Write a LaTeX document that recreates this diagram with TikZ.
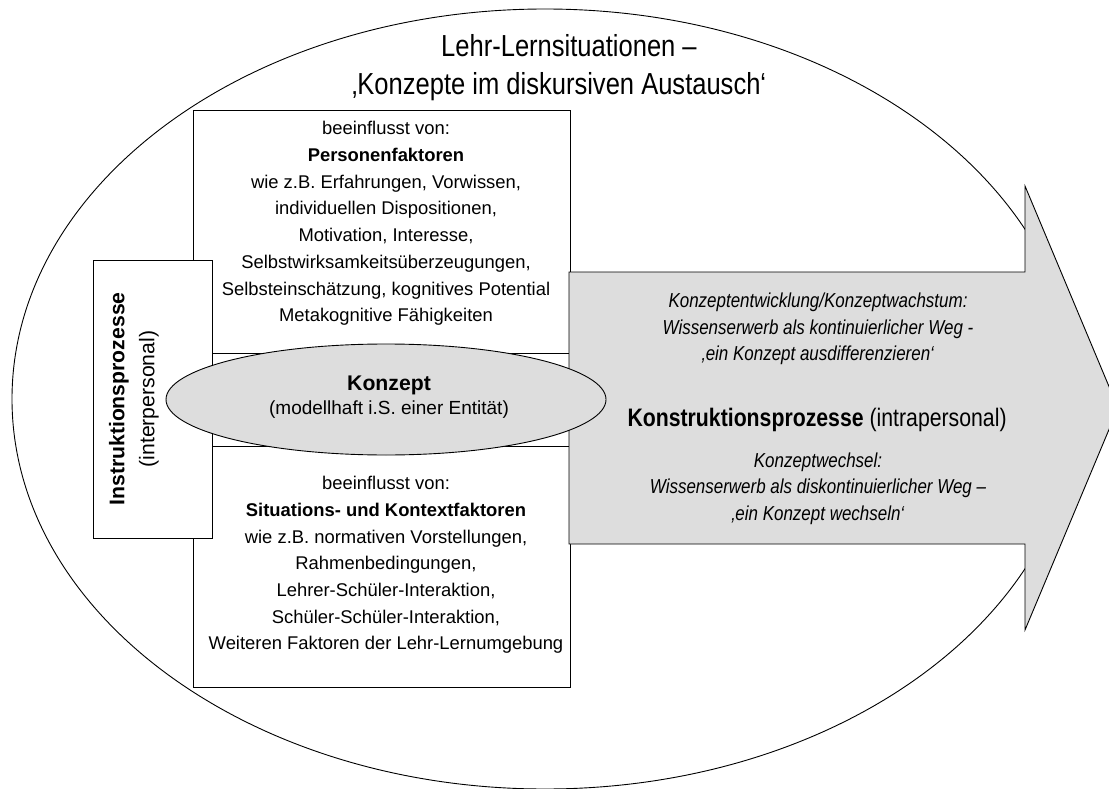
\documentclass[tikz,border=0pt]{standalone}
\usepackage{fontspec}
\setmainfont{Liberation Sans}
\newfontfamily\schmal{Liberation Sans}[FakeStretch=0.84]
\usetikzlibrary{shapes.geometric}

\definecolor{hellgrau}{HTML}{DDDDDD}

\begin{document}
\begin{tikzpicture}[x=1pt, y=-1pt,
    linie/.style={draw=black, line width=0.9pt},
    kasten/.style={linie, rectangle, fill=white, inner sep=0pt},
    blase/.style={linie, ellipse, inner sep=0pt},
    textblock/.style={align=center, inner sep=0pt,
        font=\fontsize{18.4}{26.7}\selectfont},
    kursiv/.style={align=center, inner sep=0pt,
        font=\schmal\fontsize{20.2}{26.5}\selectfont\itshape},
    gross/.style={align=center, inner sep=0pt,
        font=\fontsize{21.2}{30}\selectfont},
    titel/.style={align=center, inner sep=0pt,
        font=\schmal\fontsize{30.4}{38}\selectfont}
]
\useasboundingbox (0,0) rectangle (1109,789);

% Outer ellipse: teaching-learning situation
\node[blase, minimum width=1066, minimum height=780] (situation) at (545,399) {};
\node[titel] (situationtext) at (559,68) {
    \hspace*{20pt}Lehr-Lernsituationen –\\
    ‚Konzepte im diskursiven Austausch‘
};

% Factor box with two dividing lines
\node[kasten, minimum width=377, minimum height=577] (faktoren) at (381.5,398.5) {};
\coordinate (oben) at (193,353);
\coordinate (unten) at (193,446);
\draw[linie] (oben) -- (oben -| faktoren.east);
\draw[linie] (unten) -- (unten -| faktoren.east);

\node[textblock] (person) at (386,223.5) {
    beeinflusst von:\\
    \textbf{Personenfaktoren}\\
    wie z.B. Erfahrungen, Vorwissen,\\
    individuellen Dispositionen,\\
    Motivation, Interesse,\\
    Selbstwirksamkeitsüberzeugungen,\\
    Selbsteinschätzung, kognitives Potential\\
    Metakognitive Fähigkeiten
};
\node[textblock] (kontext) at (386,565) {
    beeinflusst von:\\
    \textbf{Situations- und Kontextfaktoren}\\
    wie z.B. normativen Vorstellungen,\\
    Rahmenbedingungen,\\
    Lehrer-Schüler-Interaktion,\\
    Schüler-Schüler-Interaktion,\\
    Weiteren Faktoren der Lehr-Lernumgebung
};

% Instruction box (left)
\node[kasten, minimum width=119, minimum height=278] (instruktion) at (152.5,399) {};
\node[gross, rotate=90] (instruktiontext) at (134,399) {
    \textbf{Instruktionsprozesse}\\
    (interpersonal)
};

% Construction arrow (right)
\draw[linie, fill=hellgrau] (569,272) -- (1025,272) -- (1025,186) -- (1118,408)
    -- (1025,630) -- (1025,544) -- (569,544) -- cycle;
\node[kursiv] (wachstum) at (818,329) {
    Konzeptentwicklung/Konzeptwachstum:\\
    Wissenserwerb als kontinuierlicher Weg -\\
    ‚ein Konzept ausdifferenzieren‘
};
\node[gross, font=\schmal\fontsize{25.3}{30}\selectfont] (konstruktion) at (820,420) {
    \textbf{Konstruktionsprozesse} (intrapersonal)
};
\node[kursiv] (wechsel) at (818,488.5) {
    Konzeptwechsel:\\
    Wissenserwerb als diskontinuierlicher Weg –\\
    ‚ein Konzept wechseln‘
};

% Concept in the middle
\node[blase, fill=hellgrau, minimum width=440, minimum height=111] (konzept) at (386,399.5) {};
\node[textblock, font=\fontsize{19}{24}\selectfont] (konzepttext) at (389,397) {
    \textbf{\fontsize{21.2}{24}\selectfont Konzept}\\
    (modellhaft i.S. einer Entität)
};
\end{tikzpicture}
\end{document}
